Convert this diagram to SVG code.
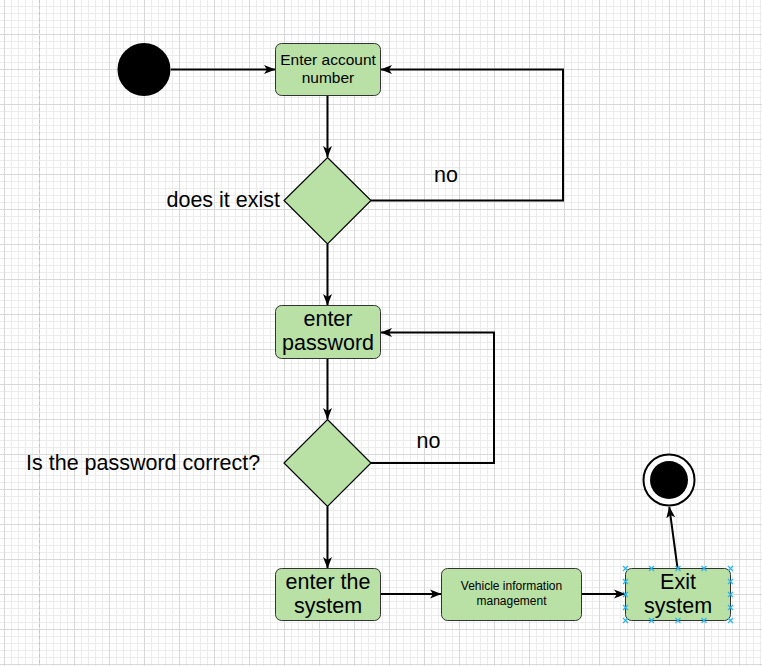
<svg xmlns="http://www.w3.org/2000/svg" width="762" height="666" viewBox="0 0 762 666">
<style>
.box{fill:#b9e0a5;stroke:#333;stroke-width:1}
.dia{fill:#b9e0a5;stroke:#000;stroke-width:1.2}
.edge{fill:none;stroke:#000;stroke-width:2}
.t{font-family:"Liberation Sans",Arial,sans-serif;fill:#000;text-anchor:middle}
.lbl{font-family:"Liberation Sans",Arial,sans-serif;fill:#000;font-size:21.5px}
.sel{stroke:#29b6f2;stroke-width:1.2;fill:none}
</style>
<defs>
<pattern id="grid" x="4" y="-1" width="35" height="35" patternUnits="userSpaceOnUse">
<path d="M7.5,0V35M14.5,0V35M21.5,0V35M28.5,0V35M0,7.5H35M0,14.5H35M0,21.5H35M0,28.5H35" stroke="#ececec" stroke-width="1"/>
<path d="M0.5,0V35M0,0.5H35" stroke="#d8d8d8" stroke-width="1"/>
</pattern>
<marker id="arr" viewBox="0 0 12 10" refX="11" refY="5" markerWidth="12" markerHeight="10" markerUnits="userSpaceOnUse" orient="auto">
<path d="M0,0.5 L11.5,5 L0,9.5 L3,5 z" fill="#000"/>
</marker>
<path id="x" d="M-2.5,-2.5L2.5,2.5M-2.5,2.5L2.5,-2.5"/>
</defs>
<rect width="762" height="666" fill="#fff"/>
<rect width="762" height="666" fill="url(#grid)"/>
<path d="M39.5,0V666" stroke="#c4c4c4" stroke-width="1" stroke-dasharray="3,3"/>

<g id="connectors">
<path class="edge" marker-end="url(#arr)" d="M171,69.5H275"/>
<path class="edge" marker-end="url(#arr)" d="M327.5,96V157"/>
<path class="edge" marker-end="url(#arr)" d="M371,200.5H563V69.5H381"/>
<path class="edge" marker-end="url(#arr)" d="M327.5,244V305"/>
<path class="edge" marker-end="url(#arr)" d="M327.5,358.5V419"/>
<path class="edge" marker-end="url(#arr)" d="M371,463H494V332.5H381"/>
<path class="edge" marker-end="url(#arr)" d="M327.5,506.5V568"/>
<path class="edge" marker-end="url(#arr)" d="M380.5,594H441"/>
<path class="edge" marker-end="url(#arr)" d="M581.5,594H625"/>
<path class="edge" marker-end="url(#arr)" d="M677.5,568L669.3,507"/>
<text class="lbl" x="446" y="182" text-anchor="middle">no</text>
<text class="lbl" x="428.5" y="448" text-anchor="middle">no</text>
</g>

<g id="start">
<circle cx="144" cy="69.5" r="26.5" fill="#000"/>
</g>

<g id="enter-account">
<rect class="box" x="275.5" y="43.5" width="105" height="52" rx="6"/>
<text class="t" font-size="15.5" x="328" y="64.5">Enter account</text>
<text class="t" font-size="15.5" x="328" y="83">number</text>
</g>

<g id="exist-decision">
<path class="dia" d="M327.5,157.5L371,200.5L327.5,244L284,200.5Z"/>
<text class="lbl" x="280" y="207" text-anchor="end">does it exist</text>
</g>

<g id="enter-password">
<rect class="box" x="275.5" y="305.5" width="105" height="53" rx="6"/>
<text class="t" font-size="21.5" x="328" y="325.5">enter</text>
<text class="t" font-size="21.5" x="328" y="349.5">password</text>
</g>

<g id="password-decision">
<path class="dia" d="M327.5,419.5L371,463L327.5,506.5L284,463Z"/>
<text class="lbl" x="26" y="469.5">Is the password correct?</text>
</g>

<g id="enter-system">
<rect class="box" x="275.5" y="568.5" width="105" height="52" rx="6"/>
<text class="t" font-size="21.5" x="328" y="588.5">enter the</text>
<text class="t" font-size="21.5" x="328" y="613">system</text>
</g>

<g id="vehicle-info">
<rect class="box" x="441.5" y="568.5" width="140" height="52" rx="6"/>
<text class="t" font-size="12" x="511.5" y="590">Vehicle information</text>
<text class="t" font-size="12" x="511.5" y="605">management</text>
</g>

<g id="exit-system">
<rect class="box" x="625.5" y="568.5" width="105" height="52" rx="6"/>
<text class="t" font-size="21.5" x="678" y="588.5">Exit</text>
<text class="t" font-size="21.5" x="678" y="613">system</text>
<g class="sel">
<use href="#x" x="625.5" y="568.5"/><use href="#x" x="651.5" y="568.5"/><use href="#x" x="678" y="568.5"/><use href="#x" x="704" y="568.5"/><use href="#x" x="730.5" y="568.5"/>
<use href="#x" x="625.5" y="620.5"/><use href="#x" x="651.5" y="620.5"/><use href="#x" x="678" y="620.5"/><use href="#x" x="704" y="620.5"/><use href="#x" x="730.5" y="620.5"/>
<use href="#x" x="625.5" y="581.5"/><use href="#x" x="625.5" y="594.5"/><use href="#x" x="625.5" y="607.5"/>
<use href="#x" x="730.5" y="581.5"/><use href="#x" x="730.5" y="594.5"/><use href="#x" x="730.5" y="607.5"/>
</g>
</g>

<g id="end">
<circle cx="669" cy="480" r="25.5" fill="#fff" stroke="#000" stroke-width="2"/>
<circle cx="669" cy="480" r="19" fill="#000"/>
</g>
</svg>
